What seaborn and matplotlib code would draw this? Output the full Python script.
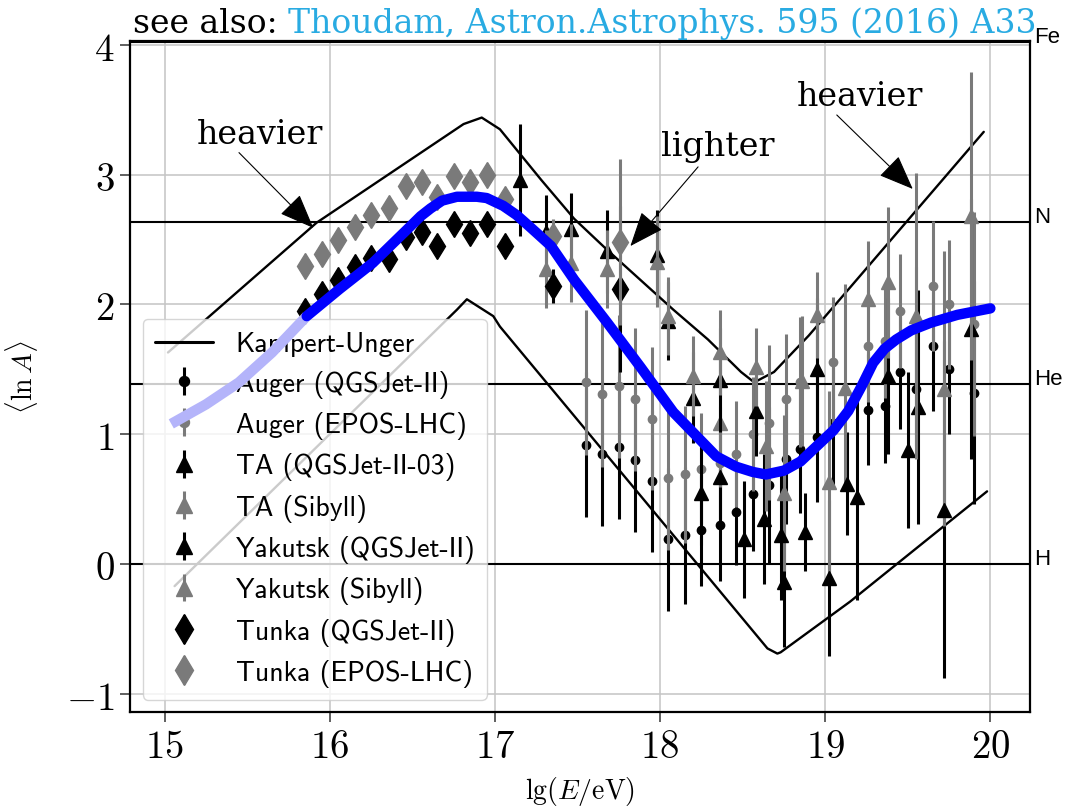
import matplotlib
matplotlib.use("Agg")
import matplotlib.pyplot as plt
import matplotlib.transforms as mtransforms
import pandas as pd
import seaborn as sns

# ---------------- data ----------------
# Kampert-Unger band edges (lg E, <ln A>)
ku_upper_lg = [15.02, 15.92, 16.81, 16.92, 17.03, 17.28, 17.48, 17.68, 17.88, 18.08, 18.29, 18.49, 18.57, 18.69, 18.90, 19.96]
ku_upper_ln = [1.63, 2.63, 3.39, 3.44, 3.35, 2.96, 2.66, 2.42, 2.19, 1.96, 1.73, 1.48, 1.40, 1.48, 1.76, 3.33]
ku_lower_lg = [15.06, 16.77, 16.83, 16.99, 17.03, 18.65, 18.71, 18.73, 19.15, 19.98]
ku_lower_ln = [-0.17, 1.96, 2.04, 1.91, 1.83, -0.65, -0.69, -0.68, -0.29, 0.56]

# Thoudam model curve and its low-energy extension
model_lg = [15.86, 16.06, 16.26, 16.47, 16.55, 16.61, 16.68, 16.77, 16.89, 16.95, 17.05, 17.13, 17.21, 17.34,
            17.48, 17.68, 17.88, 18.08, 18.34, 18.46, 18.56, 18.64, 18.75, 18.85, 18.95, 19.05, 19.14,
            19.22, 19.29, 19.36, 19.43, 19.52, 19.64, 19.80, 20.00]
model_ln = [1.91, 2.12, 2.32, 2.58, 2.68, 2.74, 2.80, 2.83, 2.83, 2.82, 2.76, 2.69, 2.60, 2.45,
            2.19, 1.86, 1.52, 1.17, 0.83, 0.75, 0.71, 0.69, 0.72, 0.79, 0.91, 1.03, 1.18,
            1.37, 1.55, 1.66, 1.73, 1.80, 1.86, 1.92, 1.97]
model_ext_lg = [15.04, 15.25, 15.45, 15.65, 15.86]
model_ext_ln = [1.08, 1.23, 1.40, 1.63, 1.91]

# Auger
auger_lg = [17.55, 17.65, 17.75, 17.85, 17.95, 18.05, 18.15, 18.25, 18.36, 18.46, 18.56, 18.66,
            18.76, 18.85, 18.95, 19.05, 19.26, 19.36, 19.45, 19.55, 19.65, 19.75, 19.90]
auger_qgs_ln = [0.92, 0.85, 0.90, 0.80, 0.64, 0.19, 0.22, 0.26, 0.30, 0.40, 0.54, 0.61,
                0.81, 0.89, 0.98, 1.09, 1.19, 1.22, 1.48, 1.35, 1.68, 1.50, 1.32]
auger_epos_ln = [1.40, 1.31, 1.37, 1.27, 1.12, 0.66, 0.69, 0.73, 0.78, 0.85, 1.00, 1.09,
                 1.27, 1.40, 1.48, 1.56, 1.68, 1.72, 1.95, 1.85, 2.14, 2.00, 1.85]
auger_err = [0.56, 0.56, 0.55, 0.55, 0.55, 0.55, 0.53, 0.43, 0.43, 0.41, 0.44, 0.60,
             0.50, 0.50, 0.50, 0.50, 0.43, 0.44, 0.44, 0.44, 0.50, 0.50, 0.86]

# TA
ta_qgs_lg = [18.25, 18.36, 18.51, 18.63, 18.73, 18.75, 18.88, 19.02, 19.13, 19.19, 19.50, 19.72]
ta_qgs_ln = [0.55, 0.67, 0.19, 0.35, 0.22, -0.14, 0.25, -0.11, 0.62, 0.52, 0.88, 0.42]
ta_qgs_err = [0.40, 0.40, 0.45, 0.50, 0.50, 0.50, 0.30, 0.60, 0.40, 0.80, 0.60, 1.30]
ta_sib_lg = [18.36, 18.64, 18.75, 18.86, 19.02, 19.12, 19.26, 19.72]
ta_sib_ln = [1.09, 0.91, 0.55, 1.41, 0.63, 1.36, 2.04, 1.35]
ta_sib_err = [0.50, 0.50, 0.60, 0.50, 0.70, 0.80, 0.45, 1.06]

# Yakutsk
yak_qgs_lg = [17.15, 17.31, 17.46, 17.68, 17.98, 18.05, 18.20, 18.36, 18.58, 18.95, 19.38, 19.56, 19.88]
yak_qgs_ln = [2.96, 2.56, 2.58, 2.41, 2.38, 1.87, 1.28, 1.42, 1.18, 1.50, 1.45, 1.21, 1.81]
yak_qgs_err = [0.43, 0.28, 0.28, 0.32, 0.35, 0.30, 0.35, 0.40, 0.35, 0.55, 0.60, 0.90, 1.00]
yak_sib_lg = [17.31, 17.46, 17.68, 17.98, 18.05, 18.20, 18.36, 18.58, 18.95, 19.38, 19.55, 19.88]
yak_sib_ln = [2.27, 2.32, 2.27, 2.33, 1.91, 1.45, 1.63, 1.52, 1.92, 2.17, 1.91, 2.68]
yak_sib_err = [0.30, 0.30, 0.30, 0.35, 0.30, 0.31, 0.33, 0.30, 0.33, 0.58, 1.10, 1.11]

# Tunka
tunka_lg = [15.85, 15.95, 16.05, 16.15, 16.25, 16.36, 16.46, 16.56, 16.65, 16.75, 16.85, 16.95, 17.06, 17.35, 17.76]
tunka_qgs_ln = [1.95, 2.08, 2.19, 2.29, 2.36, 2.35, 2.52, 2.56, 2.45, 2.62, 2.55, 2.62, 2.45, 2.14, 2.12]
tunka_epos_ln = [2.30, 2.39, 2.50, 2.60, 2.69, 2.74, 2.91, 2.94, 2.83, 2.99, 2.94, 3.00, 2.81, 2.53, 2.48]
tunka_err = [0.04, 0.04, 0.04, 0.04, 0.04, 0.04, 0.04, 0.04, 0.04, 0.04, 0.04, 0.04, 0.04, 0.13, 0.64]

# mass reference lines
elements = ["H", "He", "N", "Fe"]
element_lnA = [0.0, 1.386, 2.639, 4.025]

x_ticks = [15, 16, 17, 18, 19, 20]
y_ticks = [-1, 0, 1, 2, 3, 4]

# ---------------- style ----------------
sns.set_style("whitegrid", {
    "axes.edgecolor": "black",
    "grid.color": "#c4c4c4",
    "xtick.bottom": True,
    "ytick.left": True,
    "text.color": "black",
    "axes.labelcolor": "black",
    "xtick.color": "black",
    "ytick.color": "black",
})
plt.rcParams["mathtext.fontset"] = "cm"
plt.rcParams["axes.linewidth"] = 1.6
plt.rcParams["grid.linewidth"] = 1.1

BLACK = "#000000"
GRAY = "#7a7a7a"

fig = plt.figure(figsize=(10.81, 8.12), dpi=100)
ax = fig.add_axes([130 / 1081, 1 - 713 / 812, 900 / 1081, 671 / 812])
ax.set_xlim(14.79, 20.24)
ax.set_ylim(-1.14, 4.03)
ax.set_axisbelow(True)

# element lines
for name, val in zip(elements, element_lnA):
    ax.axhline(val, color="black", lw=1.5, zorder=1.5)
    ax.text(1.0, val, name, transform=mtransforms.blended_transform_factory(ax.transAxes, ax.transData)
            + mtransforms.ScaledTranslation(4 / 100, 0, fig.dpi_scale_trans),
            ha="left", va="baseline", fontsize=16, family="Liberation Sans", clip_on=False)

# Kampert-Unger band
ku_up = pd.DataFrame({"lg": ku_upper_lg, "lnA": ku_upper_ln})
ku_lo = pd.DataFrame({"lg": ku_lower_lg, "lnA": ku_lower_ln})
sns.lineplot(data=ku_up, x="lg", y="lnA", sort=False, estimator=None, color="black", lw=1.7, ax=ax, zorder=2)
sns.lineplot(data=ku_lo, x="lg", y="lnA", sort=False, estimator=None, color="black", lw=1.7, ax=ax, zorder=2)
ku_handle, = ax.plot([], [], color="black", lw=2.2)


def series(lg, ln, err, marker, color, ms, z):
    return ax.errorbar(lg, ln, yerr=err, fmt=marker, color=color, ecolor=color, ms=ms,
                       mec=color, elinewidth=2.2, capsize=0, zorder=z)


h_aug_q = series(auger_lg, auger_qgs_ln, auger_err, "o", BLACK, 6, 3)
h_aug_e = series(auger_lg, auger_epos_ln, auger_err, "o", GRAY, 6, 3.1)
h_ta_q = series(ta_qgs_lg, ta_qgs_ln, ta_qgs_err, "^", BLACK, 10, 3.2)
h_ta_s = series(ta_sib_lg, ta_sib_ln, ta_sib_err, "^", GRAY, 10, 3.3)
h_yak_q = series(yak_qgs_lg, yak_qgs_ln, yak_qgs_err, "^", BLACK, 10, 3.4)
h_yak_s = series(yak_sib_lg, yak_sib_ln, yak_sib_err, "^", GRAY, 10, 3.5)
h_tun_q = series(tunka_lg, tunka_qgs_ln, tunka_err, "d", BLACK, 13, 3.6)
h_tun_e = series(tunka_lg, tunka_epos_ln, tunka_err, "d", GRAY, 13, 3.7)

# Thoudam model curve (drawn above the legend box)
model = pd.DataFrame({"lg": model_lg, "lnA": model_ln})
model_ext = pd.DataFrame({"lg": model_ext_lg, "lnA": model_ext_ln})
sns.lineplot(data=model_ext, x="lg", y="lnA", sort=False, estimator=None, color="#b4b4fa",
             lw=7.5, ax=ax, zorder=11, solid_capstyle="butt", solid_joinstyle="round")
sns.lineplot(data=model, x="lg", y="lnA", sort=False, estimator=None, color="#0000ff",
             lw=7.5, ax=ax, zorder=12, solid_capstyle="round", solid_joinstyle="round")

# axes cosmetics
ax.set_xticks(x_ticks)
ax.set_xticklabels([f"${v}$" for v in x_ticks], fontsize=28)
ax.set_yticks(y_ticks)
ax.set_yticklabels([f"${v}$" for v in y_ticks], fontsize=28)
ax.tick_params(axis="both", length=7, width=1.2, color="#444444", pad=4)
ax.set_xlabel(r"$\mathrm{lg}(E/\mathrm{eV})$", fontsize=20)
ax.set_ylabel(r"$\langle \ln A\rangle$", fontsize=20)
ax.xaxis.set_label_coords(0.5, -0.092)
ax.yaxis.set_label_coords(-0.10, 0.5)
for s in ax.spines.values():
    s.set_color("black")
    s.set_linewidth(1.6)

# legend
leg = ax.legend([ku_handle, h_aug_q, h_aug_e, h_ta_q, h_ta_s, h_yak_q, h_yak_s, h_tun_q, h_tun_e],
                ["Kampert-Unger", "Auger (QGSJet-II)", "Auger (EPOS-LHC)", "TA (QGSJet-II-03)",
                 "TA (Sibyll)", "Yakutsk (QGSJet-II)", "Yakutsk (Sibyll)", "Tunka (QGSJet-II)",
                 "Tunka (EPOS-LHC)"],
                loc="lower left", bbox_to_anchor=(0.0, 0.0), borderaxespad=0.45,
                prop={"family": ["cmss10", "DejaVu Sans"], "size": 20},
                handlelength=2.1, handletextpad=0.8, labelspacing=0.48, borderpad=0.45,
                framealpha=0.8, edgecolor="#cccccc", fancybox=True, markerscale=1.2)
leg.set_zorder(10)

# annotations
arrow_kw = dict(arrowstyle="-|>,head_length=0.55,head_width=0.22", mutation_scale=40,
                color="black", lw=0.8, shrinkA=0, shrinkB=0)
txt_kw = dict(ha="center", va="center", fontsize=24, family="DejaVu Serif", color="black", zorder=8)
ax.annotate("", xy=(15.90, 2.59), xytext=(15.45, 3.17), arrowprops=arrow_kw, zorder=8)
ax.text(15.58, 3.31, "heavier", **txt_kw)
ax.annotate("", xy=(17.82, 2.45), xytext=(18.23, 3.06), arrowprops=arrow_kw, zorder=8)
ax.text(18.35, 3.22, "lighter", **txt_kw)
ax.annotate("", xy=(19.53, 2.89), xytext=(19.07, 3.46), arrowprops=arrow_kw, zorder=8)
ax.text(19.21, 3.61, "heavier", **txt_kw)

# header line
t1 = fig.text(133 / 1081, 1 - 33 / 812, "see also: ", fontsize=23.8, family="DejaVu Serif",
              ha="left", va="baseline", color="black")
fig.canvas.draw()
bb = t1.get_window_extent()
fig.text(bb.x1 / fig.bbox.width, 1 - 33 / 812, "Thoudam, Astron.Astrophys. 595 (2016) A33",
         fontsize=23.8, family="DejaVu Serif", ha="left", va="baseline", color="#29abe2")

fig.savefig("out.png", dpi=100)
